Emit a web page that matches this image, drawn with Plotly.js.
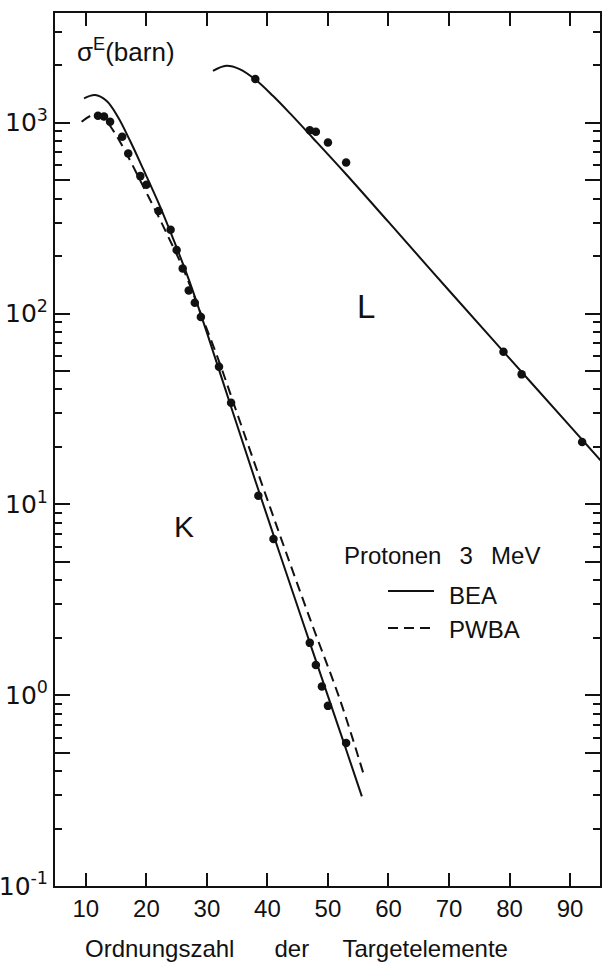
<!DOCTYPE html>
<html>
<head>
<meta charset="utf-8">
<script src="https://cdn.plot.ly/plotly-3.0.1.min.js"></script>
<style>
  html, body { margin: 0; padding: 0; background: #fff; }
  #chart { width: 603px; height: 963px; }
</style>
</head>
<body>
<div id="chart"></div>
<script>
// Measured K-shell ionisation cross sections (atomic number, barn)
const kZ = [12, 13, 14, 16, 17, 19, 20, 22, 24, 25, 26, 27, 28, 29, 32, 34, 38.5, 41, 47, 48, 49, 50, 53];
const kSigma = [1087, 1079, 1011, 844, 690, 525, 473, 345, 275, 215, 172, 132, 114, 96, 52.6, 34.1, 11.1, 6.59, 1.88, 1.44, 1.11, 0.879, 0.561];

// Measured L-shell ionisation cross sections
const lZ = [38, 47, 48, 50, 53, 79, 82, 92];
const lSigma = [1694, 914, 896, 788, 619, 63.1, 48.0, 21.2];

// BEA calculation, K shell
const beaKZ = [9.7, 11.5, 13.4, 15.3, 17.3, 19.5, 22.0, 24.5, 27.0, 30.0, 34.0, 38.0, 42.0, 46.0, 50.0, 53.0, 55.6];
const beaK = [1340, 1396, 1303, 1072, 804, 569, 380, 243, 151, 79.4, 32.4, 13.3, 5.56, 2.34, 0.989, 0.519, 0.295];

// PWBA calculation, K shell
const pwbaKZ = [9.3, 11.2, 13.0, 14.5, 16.0, 17.5, 19.5, 21.5, 23.5, 26.0, 29.0, 32.0, 35.0, 39.0, 43.0, 47.5, 52.0, 55.8];
const pwbaK = [1012, 1096, 1047, 912, 759, 617, 462, 347, 257, 174, 100, 56.2, 29.9, 13.0, 5.69, 2.29, 0.944, 0.394];

// BEA calculation, L shell
const beaLZ = [31, 33.2, 35.4, 37.9, 40.9, 43.7, 47.5, 53.0, 60.0, 70.0, 80.0, 90.0, 95.2];
const beaL = [1871, 1990, 1911, 1694, 1384, 1122, 832, 537, 302, 132, 58.2, 25.7, 16.8];

// Axis ticks
const xTicks = [10, 20, 30, 40, 50, 60, 70, 80, 90];
const yDecades = [0.1, 1, 10, 100, 1000];
const yLabels = ['10<sup>-1</sup>', '10<sup>0</sup>', '10<sup>1</sup>', '10<sup>2</sup>', '10<sup>3</sup>'];
const yHalf = [0.5, 5, 50, 500];
const yMinor = [0.2, 0.3, 0.4, 0.6, 0.7, 0.8, 0.9,
                2, 3, 4, 6, 7, 8, 9,
                20, 30, 40, 60, 70, 80, 90,
                200, 300, 400, 600, 700, 800, 900,
                2000, 3000];

const FONT = '"Liberation Sans", Arial, sans-serif';
const INK = '#111';
const Y_RANGE = [-1, 3.575];

const curve = (x, y, dash) => ({
  x, y, type: 'scatter', mode: 'lines', hoverinfo: 'skip',
  line: { color: INK, width: 2, dash: dash, shape: 'spline', smoothing: 1 }
});
const dots = (x, y) => ({
  x, y, type: 'scatter', mode: 'markers', hoverinfo: 'skip',
  marker: { color: INK, size: 8.5, line: { width: 0 } }
});

const traces = [
  curve(beaKZ, beaK, 'solid'),
  curve(pwbaKZ, pwbaK, '10px,6px'),
  curve(beaLZ, beaL, 'solid'),
  dots(kZ, kSigma),
  dots(lZ, lSigma),
  // carrier for the second (tick-only) y axis
  { x: [], y: [], type: 'scatter', mode: 'markers', yaxis: 'y2', hoverinfo: 'skip' }
];

// plot box in pixels: x 55..600, y 13..886
const L = 55, R = 600, T = 13, B = 886;
const px = v => (v - L) / (R - L);
const py = v => (B - v) / (B - T);

const ann = (text, x, y, size, xanchor) => ({
  text, xref: 'paper', yref: 'paper', x: px(x), y: py(y),
  xanchor: xanchor || 'center', yanchor: 'middle', showarrow: false,
  font: { family: FONT, size: size, color: INK }
});

const tickStyle = { ticks: 'inside', tickwidth: 2, tickcolor: INK, showgrid: false, zeroline: false };

const layout = {
  width: 603, height: 963,
  margin: { l: L, r: 603 - R, t: T, b: 963 - B },
  paper_bgcolor: '#fff', plot_bgcolor: '#fff',
  showlegend: false,
  font: { family: FONT, color: INK },
  xaxis: Object.assign({}, tickStyle, {
    range: [4.9, 94.95], tickmode: 'array', tickvals: xTicks, ticklen: 13,
    showline: true, linewidth: 2, linecolor: INK, mirror: 'ticks',
    tickfont: { family: FONT, size: 24, color: INK }
  }),
  yaxis: Object.assign({}, tickStyle, {
    type: 'log', range: Y_RANGE, tickmode: 'array',
    tickvals: yDecades, ticktext: yLabels, ticklen: 15,
    minor: { tickmode: 'array', tickvals: yMinor, ticks: 'inside', ticklen: 7, tickwidth: 2, tickcolor: INK, showgrid: false },
    showline: true, linewidth: 2, linecolor: INK, mirror: 'ticks',
    tickfont: { family: '"DejaVu Sans", sans-serif', size: 25, color: INK }
  }),
  // long unlabelled ticks at 5 x 10^n
  yaxis2: Object.assign({}, tickStyle, {
    type: 'log', range: Y_RANGE, overlaying: 'y', side: 'left',
    tickmode: 'array', tickvals: yHalf, ticklen: 15,
    showticklabels: false, showline: false, mirror: 'ticks'
  }),
  annotations: [
    ann('σ<sup>E</sup>(barn)', 75, 51, 26, 'left'),
    ann('L', 366, 306, 33),
    ann('K', 184, 526, 30),
    ann('Protonen\u00a0\u00a0\u20093\u00a0\u00a0\u2009MeV', 342, 555, 24, 'left'),
    ann('BEA', 447, 595, 24, 'left'),
    ann('PWBA', 447, 629, 24, 'left'),
    ann('Ordnungszahl\u00a0\u00a0\u00a0\u00a0\u00a0\u00a0der\u00a0\u00a0\u00a0\u00a0\u00a0Targetelemente', 296.5, 948, 24)
  ],
  shapes: [
    { type: 'line', xref: 'paper', yref: 'paper', x0: px(388), x1: px(434), y0: py(591), y1: py(591),
      line: { color: INK, width: 2 } },
    { type: 'line', xref: 'paper', yref: 'paper', x0: px(388), x1: px(434), y0: py(628), y1: py(628),
      line: { color: INK, width: 2, dash: '10px,6px' } }
  ]
};

Plotly.newPlot('chart', traces, layout, { staticPlot: true, displayModeBar: false });
</script>
</body>
</html>
